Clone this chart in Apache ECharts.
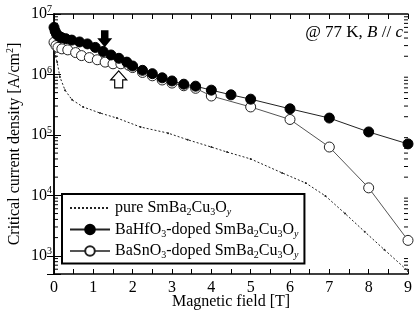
<!DOCTYPE html>
<html>
<head>
<meta charset="utf-8">
<script src="https://cdn.jsdelivr.net/npm/echarts@6/dist/echarts.min.js"></script>
<style>
  html, body { margin: 0; padding: 0; background: #fff; }
  #main { width: 415px; height: 313px; }
</style>
</head>
<body>
<div id="main"></div>
<script>
// magnetic field (T) and Jc (A/cm2)
var hfField = [0, 0.03, 0.06, 0.1, 0.15, 0.2, 0.3, 0.45, 0.65, 0.85, 1.05, 1.25, 1.45, 1.65, 1.85, 2.0,
    2.25, 2.5, 2.75, 3.0, 3.3, 3.6, 4.0, 4.5, 5, 6, 7, 8, 9];
var hfJc = [6.0e6, 5.2e6, 4.7e6, 4.4e6, 4.2e6, 4.05e6, 3.9e6, 3.7e6, 3.45e6, 3.2e6, 2.8e6, 2.4e6, 2.1e6, 1.85e6, 1.6e6, 1.38e6,
    1.17e6, 1.03e6, 8.8e5, 7.8e5, 6.9e5, 6.4e5, 5.5e5, 4.6e5, 3.9e5, 2.7e5, 1.9e5, 1.12e5, 7.1e4];

var snField = [0, 0.05, 0.1, 0.2, 0.35, 0.55, 0.7, 0.9, 1.1, 1.3, 1.5, 1.7, 1.9, 2.0,
    2.25, 2.5, 2.75, 3.0, 3.3, 3.6, 4.0, 5, 6, 7, 8, 9];
var snJc = [3.4e6, 3.0e6, 2.8e6, 2.65e6, 2.55e6, 2.3e6, 2.05e6, 1.9e6, 1.75e6, 1.6e6, 1.5e6, 1.5e6, 1.42e6, 1.3e6,
    1.08e6, 9.5e5, 8.1e5, 7.2e5, 6.5e5, 5.9e5, 4.4e5, 2.9e5, 1.8e5, 6.3e4, 1.33e4, 1.8e3];

var pureField = [0, 0.04, 0.08, 0.15, 0.28, 0.46, 0.74, 1.17, 1.6, 2.2, 2.9, 3.4, 4.0, 4.4, 5.0, 5.8, 6.4, 6.9, 7.4, 7.9, 8.4, 9.0];
var pureJc = [3.2e6, 2.0e6, 1.6e6, 9.1e5, 5.5e5, 3.8e5, 2.9e5, 2.3e5, 1.9e5, 1.35e5, 1.07e5, 8.3e4, 6.3e4, 5.2e4, 4.0e4,
    2.35e4, 1.6e4, 9.8e3, 5.0e3, 2.5e3, 1.26e3, 5.6e2];

var seriesNames = ['pure SmBa2Cu3Oy', 'BaHfO3-doped SmBa2Cu3Oy', 'BaSnO3-doped SmBa2Cu3Oy'];
var legendLabels = ['pure SmBa{sub|2}Cu{sub|3}O{subi|y}',
    'BaHfO{sub|3}-doped SmBa{sub|2}Cu{sub|3}O{subi|y}',
    'BaSnO{sub|3}-doped SmBa{sub|2}Cu{sub|3}O{subi|y}'];

// minor log ticks (2..9 x 10^n) inside the axis range
var minorTickVals = [6e2, 7e2, 8e2, 9e2,
    2e3, 3e3, 4e3, 5e3, 6e3, 7e3, 8e3, 9e3,
    2e4, 3e4, 4e4, 5e4, 6e4, 7e4, 8e4, 9e4,
    2e5, 3e5, 4e5, 5e5, 6e5, 7e5, 8e5, 9e5,
    2e6, 3e6, 4e6, 5e6, 6e6, 7e6, 8e6, 9e6];

// arrows marking the kinks [field, Jc]
var downArrowAt = [1.29, 3.9e6];
var upArrowAt = [1.645, 8.3e5];

function pairs(xs, ys) {
    var out = [];
    for (var i = 0; i < xs.length; i++) out.push([xs[i], ys[i]]);
    return out;
}

var FONT = 'Liberation Serif';
var richSub = {
    sub: { fontSize: 10, fontFamily: FONT, padding: [9, 0, 0, 0] },
    subi: { fontSize: 10, fontFamily: FONT, fontStyle: 'italic', padding: [9, 0, 0, 0] }
};
var richSup = {
    sup: { fontSize: 10, fontFamily: FONT, padding: [0, 0, 9, 0] }
};

var chart = echarts.init(document.getElementById('main'));

var option = {
    animation: false,
    backgroundColor: '#fff',
    textStyle: { fontFamily: FONT, color: '#000' },
    grid: { left: 54, right: 7, top: 14, bottom: 39, outerBoundsMode: 'none', containLabel: false },
    legend: {
        data: [
            { name: seriesNames[0], itemStyle: { color: 'rgba(0,0,0,0)', borderColor: 'rgba(0,0,0,0)' } },
            { name: seriesNames[1] },
            { name: seriesNames[2] }
        ],
        orient: 'vertical',
        left: 62,
        top: 194,
        padding: [6, 6, 3, 7],
        itemGap: 4,
        itemWidth: 40,
        itemHeight: 12,
        borderColor: '#000',
        borderWidth: 2,
        backgroundColor: '#fff',
        formatter: function (name) {
            return legendLabels[seriesNames.indexOf(name)];
        },
        textStyle: {
            fontFamily: FONT,
            fontSize: 16,
            color: '#000',
            rich: richSub
        }
    },
    xAxis: [{
        type: 'value',
        min: 0,
        max: 9,
        interval: 1,
        name: 'Magnetic field [T]',
        nameLocation: 'middle',
        nameGap: 20,
        nameMoveOverlap: false,
        nameTextStyle: { fontFamily: FONT, fontSize: 16, color: '#000' },
        axisLine: { lineStyle: { color: '#000', width: 1.5 } },
        axisTick: { inside: true, length: 5, lineStyle: { color: '#000' } },
        minorTick: { show: true, splitNumber: 2, length: 5, lineStyle: { color: '#000' } },
        axisLabel: { margin: 6, fontFamily: FONT, fontSize: 16, color: '#000' },
        splitLine: { show: false }
    }, {
        type: 'value',
        position: 'top',
        min: 0,
        max: 9,
        interval: 1,
        axisLine: { lineStyle: { color: '#000', width: 1.5 } },
        axisTick: { inside: true, length: 5, lineStyle: { color: '#000' } },
        minorTick: { show: true, splitNumber: 2, length: 5, lineStyle: { color: '#000' } },
        axisLabel: { show: false },
        splitLine: { show: false }
    }],
    yAxis: [{
        type: 'log',
        logBase: 10,
        min: 500,
        max: 1e7,
        name: 'Critical current density [A/cm{sup|2}]',
        nameLocation: 'middle',
        nameGap: 30,
        nameMoveOverlap: false,
        nameRotate: 90,
        nameTextStyle: { fontFamily: FONT, fontSize: 16, color: '#000', rich: richSup },
        axisLine: { show: true, lineStyle: { color: '#000', width: 1.5 } },
        axisTick: { inside: true, length: 7, lineStyle: { color: '#000' } },
        axisLabel: {
            margin: 2,
            fontFamily: FONT,
            fontSize: 16,
            color: '#000',
            formatter: function (v) {
                var p = Math.log(v) / Math.LN10;
                if (Math.abs(p - Math.round(p)) > 1e-6) return '';
                return '10{sup|' + Math.round(p) + '}';
            },
            rich: richSup
        },
        splitLine: { show: false }
    }, {
        type: 'log',
        logBase: 10,
        position: 'right',
        min: 500,
        max: 1e7,
        axisLine: { show: true, lineStyle: { color: '#000', width: 1.5 } },
        axisTick: { inside: true, length: 7, lineStyle: { color: '#000' } },
        axisLabel: { show: false },
        splitLine: { show: false }
    }],
    graphic: [{
        type: 'text',
        right: 12,
        top: 24,
        style: {
            text: '@ 77 K, {i|B} // {i|c}',
            fontFamily: FONT,
            fontSize: 17,
            fill: '#000',
            rich: {
                i: { fontFamily: FONT, fontSize: 17, fontStyle: 'italic' }
            }
        }
    }],
    series: [{
        name: 'pure SmBa2Cu3Oy',
        type: 'line',
        data: pairs(pureField, pureJc),
        symbol: 'circle',
        symbolSize: 2,
        showSymbol: true,
        itemStyle: { color: '#222' },
        lineStyle: { color: '#222', width: 1, type: [2, 2] },
        z: 2
    }, {
        name: 'BaSnO3-doped SmBa2Cu3Oy',
        type: 'line',
        data: pairs(snField, snJc),
        symbol: 'circle',
        symbolSize: 10,
        itemStyle: { color: '#fff', borderColor: '#222', borderWidth: 1 },
        lineStyle: { color: '#555', width: 1 },
        markPoint: {
            symbol: 'path://M8,0 L16,10 L12,10 L12,19 L4,19 L4,10 L0,10 Z',
            symbolSize: [16, 17],
            itemStyle: { color: '#fff', borderColor: '#000', borderWidth: 1.2 },
            label: { show: false },
            data: [{ coord: upArrowAt }]
        },
        z: 3
    }, {
        name: 'BaHfO3-doped SmBa2Cu3Oy',
        type: 'line',
        data: pairs(hfField, hfJc),
        symbol: 'circle',
        symbolSize: 10,
        itemStyle: { color: '#000', borderColor: '#000', borderWidth: 1 },
        lineStyle: { color: '#222', width: 1 },
        markPoint: {
            symbol: 'path://M4,0 L12,0 L12,9 L16,9 L8,19 L0,9 L4,9 Z',
            symbolSize: [15, 17],
            itemStyle: { color: '#000' },
            label: { show: false },
            data: [{ coord: downArrowAt }]
        },
        z: 4
    }, {
        name: 'minor ticks',
        type: 'custom',
        silent: true,
        clip: false,
        data: minorTickVals.map(function (v) { return [0, v]; }),
        encode: { x: 0, y: 1 },
        renderItem: function (params, api) {
            var left = api.coord([0, api.value(1)]);
            var right = api.coord([9, api.value(1)]);
            var st = { stroke: '#000', lineWidth: 1 };
            return {
                type: 'group',
                children: [
                    { type: 'line', shape: { x1: left[0], y1: left[1], x2: left[0] + 4, y2: left[1] }, style: st },
                    { type: 'line', shape: { x1: right[0], y1: right[1], x2: right[0] - 4, y2: right[1] }, style: st }
                ]
            };
        },
        z: 1
    }]
};

chart.setOption(option);
</script>
</body>
</html>
